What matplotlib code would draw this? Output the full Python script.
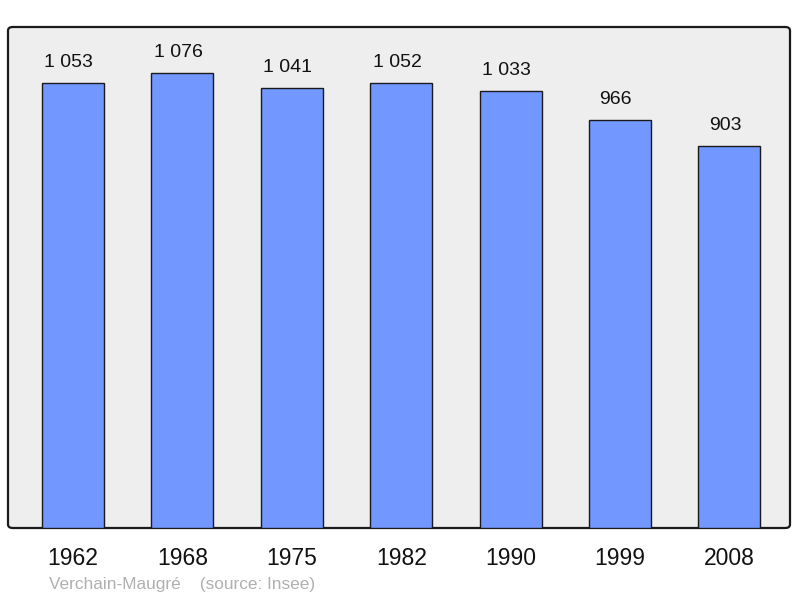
import matplotlib
matplotlib.use("Agg")
import matplotlib.pyplot as plt
from matplotlib.patches import FancyBboxPatch

years = ["1962", "1968", "1975", "1982", "1990", "1999", "2008"]
population = [1053, 1076, 1041, 1052, 1033, 966, 903]
labels = ["1 053", "1 076", "1 041", "1 052", "1 033", "966", "903"]

plt.rcParams["font.family"] = ["Liberation Sans", "DejaVu Sans"]

W, H = 800, 598
fig = plt.figure(figsize=(W / 100, H / 100), dpi=100)

# panel in pixel coordinates
px_l, px_r, px_t, px_b = 8, 790, 27, 528
ax = fig.add_axes([px_l / W, (H - px_b) / H, (px_r - px_l) / W, (px_b - px_t) / H])
ax.set_facecolor("none")
ax.set_zorder(1)

panel = FancyBboxPatch((px_l / W, (H - px_b) / H), (px_r - px_l) / W, (px_b - px_t) / H,
                       boxstyle="round,pad=0,rounding_size=0.006",
                       transform=fig.transFigure, facecolor="#eeeeee",
                       edgecolor="#1a1a1a", linewidth=1.6, zorder=-1)
fig.patches.append(panel)

x = range(len(years))
ax.bar(x, population, width=0.567, color="#7298ff", edgecolor="#1a1a1a",
       linewidth=1.0, zorder=2)
for i, (v, t) in enumerate(zip(population, labels)):
    ax.annotate(t, (i, v), xytext=(-3, 8.5), textcoords="offset points",
                ha="center", va="bottom", fontsize=14, color="#111111")

ax.set_xlim(-0.594, 6.554)
ax.set_ylim(0, 1185)
for s in ax.spines.values():
    s.set_visible(False)
ax.set_yticks([])
ax.set_xticks(list(x))
ax.set_xticklabels(years, fontsize=16.5, color="#111111")
ax.tick_params(axis="x", length=0, pad=14)

fig.text(49 / W, 1 - 589 / H, "Verchain-Maugré    (source: Insee)",
         fontsize=12.4, color="#b0b0b0", ha="left", va="baseline")

fig.savefig("out.png", dpi=100)
